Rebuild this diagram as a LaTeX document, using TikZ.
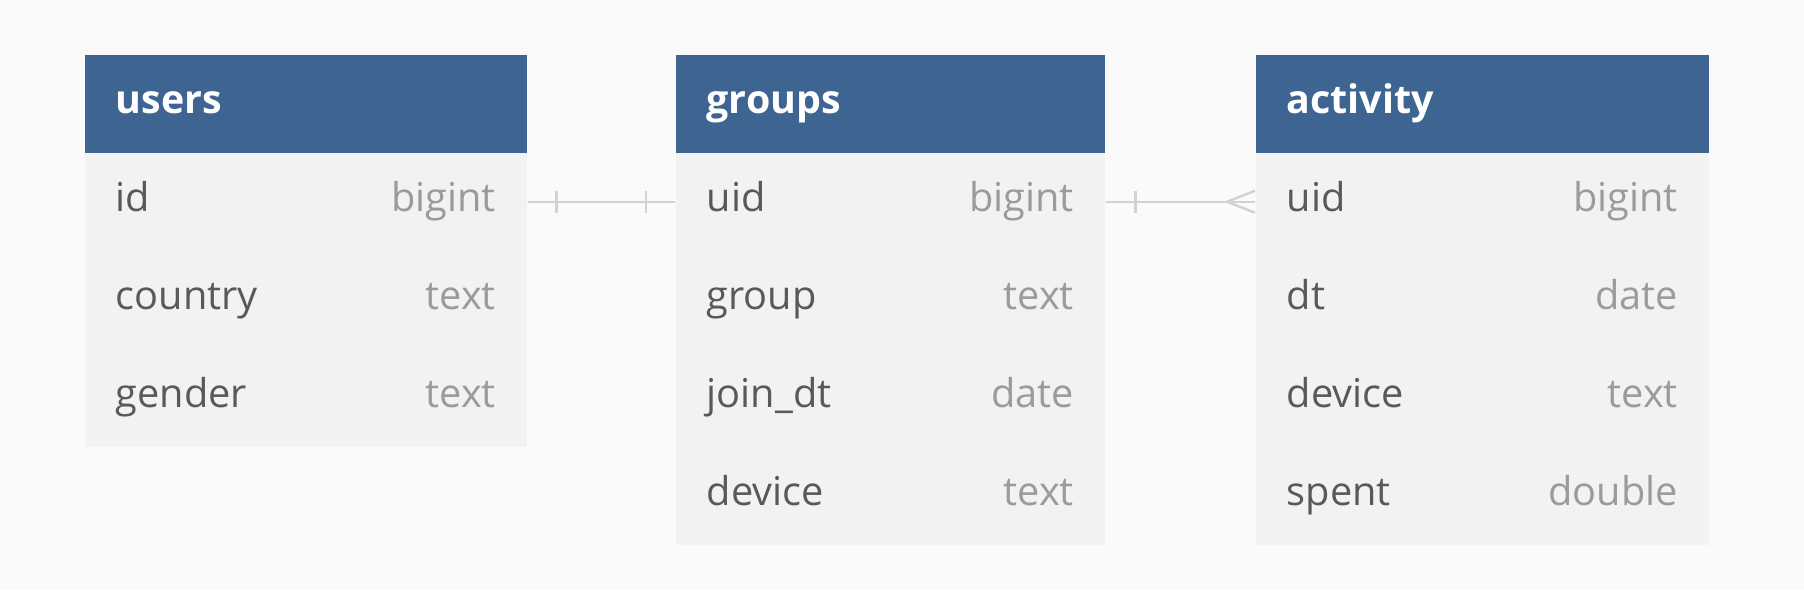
\documentclass[tikz,border=0pt]{standalone}
\usepackage{fontspec}
\setmainfont{Open Sans}
\usetikzlibrary{calc}

\definecolor{headblue}{HTML}{3E6591}
\definecolor{bodygray}{HTML}{F2F2F2}
\definecolor{bggray}{HTML}{FAFAFA}
\definecolor{namegray}{HTML}{595959}
\definecolor{typegray}{HTML}{9B9B9B}
\definecolor{linkgray}{HTML}{D2D2D2}

\begin{document}
\begin{tikzpicture}[x = 0.01cm, y = -0.01cm,
	head/.style = {fill = headblue, minimum height = 0.98cm, anchor = north west, inner sep = 0pt},
	body/.style = {fill = bodygray, anchor = north west, inner sep = 0pt},
	row/.style = {minimum height = 0.98cm, anchor = north west, inner sep = 0pt},
	title/.style = {anchor = base west, inner sep = 0pt, text = white, font = \fontsize{11.2}{14}\selectfont\bfseries},
	fname/.style = {anchor = base west, inner sep = 0pt, text = namegray, font = \fontsize{11.3}{14}\selectfont},
	ftype/.style = {anchor = base east, inner sep = 0pt, text = typegray, font = \fontsize{11.3}{14}\selectfont},
	link/.style = {draw = linkgray, line width = 0.7pt}]

	 \fill[bggray] (0, 0) rectangle (1804, 590);

	 % users
	 \node[head, minimum width = 4.42cm] (users) at (84, 54) {};
	 \node[title] (users-t) at ($(users.west) + (31, 10)$) {users};
	 \node[body, minimum width = 4.42cm, minimum height = 2.94cm] (users-b) at (84, 152) {};
	 \foreach \n/\t [count = \i] in {id/bigint, country/text, gender/text}
	 {
	 \node[row, minimum width = 4.42cm] (users-r\i) at (84, {152 + (\i - 1) * 98}) {};
	 \node[fname] (users-n\i) at ($(users-r\i.west) + (31, 10)$) {\n};
	 \node[ftype] (users-y\i) at ($(users-r\i.east) + (-31, 10)$) {\t};
	 }

	 % groups
	 \node[head, minimum width = 4.29cm] (groups) at (675, 54) {};
	 \node[title] (groups-t) at ($(groups.west) + (31, 10)$) {groups};
	 \node[body, minimum width = 4.29cm, minimum height = 3.92cm] (groups-b) at (675, 152) {};
	 \foreach \n/\t [count = \i] in {uid/bigint, group/text, join\_dt/date, device/text}
	 {
	 \node[row, minimum width = 4.29cm] (groups-r\i) at (675, {152 + (\i - 1) * 98}) {};
	 \node[fname] (groups-n\i) at ($(groups-r\i.west) + (31, 10)$) {\n};
	 \node[ftype] (groups-y\i) at ($(groups-r\i.east) + (-31, 10)$) {\t};
	 }

	 % activity
	 \node[head, minimum width = 4.53cm] (activity) at (1255, 54) {};
	 \node[title] (activity-t) at ($(activity.west) + (31, 10)$) {activity};
	 \node[body, minimum width = 4.53cm, minimum height = 3.92cm] (activity-b) at (1255, 152) {};
	 \foreach \n/\t [count = \i] in {uid/bigint, dt/date, device/text, spent/double}
	 {
	 \node[row, minimum width = 4.53cm] (activity-r\i) at (1255, {152 + (\i - 1) * 98}) {};
	 \node[fname] (activity-n\i) at ($(activity-r\i.west) + (31, 10)$) {\n};
	 \node[ftype] (activity-y\i) at ($(activity-r\i.east) + (-31, 10)$) {\t};
	 }

	 % one to one
	 \draw[link] (users-r1.east) -- (groups-r1.west);
	 \draw[link] ($(users-r1.east) + (29, -11)$) -- ++(0, 22);
	 \draw[link] ($(groups-r1.west) + (-29, -11)$) -- ++(0, 22);

	 % one to many
	 \draw[link] (groups-r1.east) -- (activity-r1.west);
	 \draw[link] ($(groups-r1.east) + (30, -11)$) -- ++(0, 22);
	 \draw[link] ($(activity-r1.west) + (0, -11)$) -- ($(activity-r1.west) + (-28, 0)$) -- ($(activity-r1.west) + (0, 11)$);
\end{tikzpicture}
\end{document}
